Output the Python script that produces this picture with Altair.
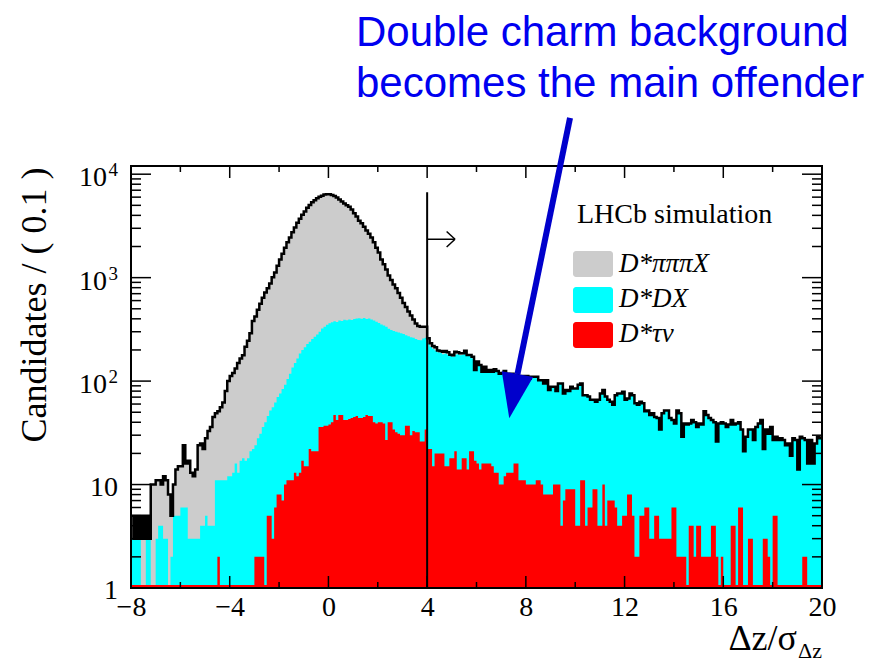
import altair as alt
import pandas as pd

# ---------------- data (bins of 0.1 from -8 to 20) ----------------
X_LO, X_HI, BW = -8.0, 20.0, 0.1
Y_LO, Y_HI = 1, 12000

# total stack: D*pipipiX + D*DX + D*tau nu
total = [
    5, 3, 5, 3, 5, 3, 5, 3, 10, 10,
    11, 11, 10, 12, 11, 8, 5, 10, 14, 15,
    15, 24, 16, 17, 13, 12, 14, 24, 25, 22,
    28, 33, 36, 45, 49, 51, 56, 62, 80, 100,
    112, 120, 132, 150, 165, 178, 215, 245, 290, 380,
    420, 490, 560, 640, 720, 790, 880, 1010, 1120, 1300,
    1500, 1700, 1950, 2200, 2450, 2750, 3050, 3400, 3700, 4050,
    4350, 4750, 5050, 5350, 5600, 5850, 6050, 6200, 6350, 6400,
    6400, 6300, 6150, 5950, 5700, 5450, 5200, 5000, 4850, 4550,
    4200, 3900, 3550, 3350, 3100, 2850, 2650, 2450, 2200, 1950,
    1750, 1500, 1350, 1200, 1050, 950, 860, 790, 710, 640,
    570, 520, 470, 430, 395, 360, 340, 335, 335, 335,
    259, 232, 218, 212, 198, 195, 192, 195, 190, 180,
    178, 192, 190, 186, 186, 196, 179, 179, 172, 128,
    155, 143, 123, 138, 123, 128, 123, 130, 125, 118,
    120, 125, 118, 115, 118, 112, 115, 110, 112, 108,
    112, 106, 110, 110, 110, 102, 102, 95, 102, 82,
    88, 88, 80, 95, 95, 76, 82, 80, 88, 85,
    85, 92, 95, 73, 73, 71, 66, 66, 63, 66,
    76, 82, 71, 66, 63, 59, 73, 76, 76, 79,
    66, 68, 76, 73, 61, 59, 63, 61, 51, 52,
    47, 49, 45, 44, 34, 49, 52, 52, 44, 42,
    39, 52, 49, 29, 39, 38, 39, 42, 40, 36,
    39, 38, 51, 47, 44, 42, 40, 26, 39, 40,
    39, 36, 38, 42, 38, 39, 40, 34, 21, 29,
    34, 34, 27, 36, 39, 42, 22, 34, 31, 36,
    27, 29, 27, 28, 27, 24, 25, 19, 28, 27,
    14, 29, 28, 27, 16, 27, 16, 25, 29, 28,
]

# D*DX + D*tau nu
dx_tau = [
    3, 3, 3, 3, 0, 0, 3, 3, 0, 0,
    3, 4, 4, 3, 3, 0, 2, 5, 5, 5,
    6, 6, 6, 3, 3, 3, 3, 3, 4, 4,
    5, 4, 4, 4, 11, 11, 11, 11, 11, 12,
    12, 13, 16, 13, 17, 18, 17, 18, 21, 22,
    24, 28, 31, 36, 40, 46, 52, 56, 62, 70,
    76, 84, 92, 105, 118, 135, 150, 165, 185, 200,
    212, 228, 240, 255, 268, 282, 300, 322, 335, 350,
    362, 370, 378, 372, 385, 380, 392, 388, 395, 390,
    398, 402, 405, 400, 408, 398, 402, 395, 385, 375,
    365, 352, 345, 335, 320, 312, 305, 300, 295, 290,
    285, 278, 272, 265, 262, 255, 250, 248, 258, 262,
    232, 215, 205, 198, 190, 188, 182, 185, 180, 175,
    172, 180, 182, 178, 180, 185, 175, 176, 165, 125,
    155, 143, 123, 138, 123, 128, 123, 130, 125, 118,
    120, 125, 118, 115, 118, 112, 115, 110, 112, 108,
    112, 106, 110, 110, 110, 102, 102, 95, 102, 82,
    88, 88, 80, 95, 95, 76, 82, 80, 88, 85,
    85, 92, 95, 73, 73, 71, 66, 66, 63, 66,
    76, 82, 71, 66, 63, 59, 73, 76, 76, 79,
    66, 68, 76, 73, 61, 59, 63, 61, 51, 52,
    47, 49, 45, 44, 34, 49, 52, 52, 44, 42,
    39, 52, 49, 29, 39, 38, 39, 42, 40, 36,
    39, 38, 51, 47, 44, 42, 40, 26, 39, 40,
    39, 36, 38, 42, 38, 39, 40, 34, 21, 29,
    34, 34, 27, 36, 39, 42, 22, 34, 31, 36,
    27, 29, 27, 28, 27, 24, 25, 19, 28, 27,
    14, 29, 28, 27, 16, 27, 16, 25, 29, 28,
]

# D*tau nu
tau = [
    0, 0, 0, 0, 0, 0, 0, 0, 0, 0,
    0, 0, 0, 0, 0, 0, 0, 0, 0, 0,
    0, 0, 0, 0, 0, 0, 0, 0, 0, 0,
    0, 0, 0, 0, 0, 2, 0, 0, 0, 0,
    0, 0, 0, 0, 0, 0, 0, 0, 0, 0,
    2, 2, 2, 2, 0, 5, 5, 3, 6, 8,
    8, 7, 10, 11, 11, 11, 13, 12, 13, 17,
    15, 15, 22, 21, 21, 21, 36, 36, 37, 37,
    38, 40, 47, 42, 47, 47, 42, 42, 43, 44,
    45, 46, 44, 44, 45, 47, 46, 46, 40, 39,
    40, 40, 39, 27, 40, 40, 34, 32, 31, 30,
    30, 37, 37, 30, 33, 32, 32, 26, 26, 34,
    22, 22, 15, 20, 20, 20, 20, 15, 15, 18,
    18, 21, 14, 14, 18, 18, 14, 21, 21, 17,
    16, 14, 16, 16, 16, 16, 15, 13, 13, 10,
    10, 12, 13, 13, 13, 16, 16, 11, 11, 11,
    10, 10, 10, 10, 11, 11, 10, 8, 8, 8,
    8, 10, 10, 10, 4, 7, 9, 9, 9, 9,
    4, 4, 11, 11, 4, 6, 6, 9, 9, 4,
    4, 10, 4, 7, 7, 7, 6, 4, 4, 5,
    5, 8, 8, 5, 2, 2, 5, 5, 6, 6,
    3, 3, 5, 5, 3, 3, 3, 3, 3, 6,
    6, 2, 2, 2, 2, 0, 4, 4, 2, 4,
    4, 2, 2, 2, 2, 4, 4, 2, 0, 2,
    0, 0, 0, 4, 4, 0, 6, 6, 0, 0,
    3, 3, 0, 0, 0, 0, 3, 3, 2, 0,
    5, 5, 0, 0, 0, 0, 0, 0, 0, 0,
    0, 0, 2, 2, 0, 0, 0, 0, 0, 0,
]

x_tick_labels = [-8, -4, 0, 4, 8, 12, 16, 20]
x_minor_ticks = [-6, -2, 2, 6, 10, 14, 18]
y_decades = [1, 10, 100, 1000, 10000]
legend_names = ["D*\u03c0\u03c0\u03c0X", "D*DX", "D*\u03c4\u03bd"]
legend_colors = ["#cccccc", "#00ffff", "#ff0000"]

# ---------------- table ----------------
n = len(total)
edges = [round(X_LO + BW * i, 2) for i in range(n)] + [X_HI]


def level(v):
    return [max(a, Y_LO) for a in v] + [max(v[-1], Y_LO)]


hist = pd.DataFrame({"x": edges, "total": level(total),
                     "dxtau": level(dx_tau), "tau": level(tau)})
one = pd.DataFrame({"k": [0]})

W, H = 691, 422
SERIF = "Liberation Serif"
SANS = "Liberation Sans"
BLUE_TXT = "#0000f0"
BLUE_ARR = "#0000cc"

xs = alt.Scale(domain=[X_LO, X_HI], nice=False, zero=False)
ys = alt.Scale(type="log", domain=[Y_LO, Y_HI], nice=False)
x_axis = alt.Axis(values=x_tick_labels, ticks=False, domain=False, grid=False,
                  labelFont=SERIF, labelFontSize=28, labelColor="black",
                  labelPadding=5, title=None, labelFlush=False,
                  labelOverlap=False, format="d")

base = alt.Chart(hist)
X = alt.X("x:Q", scale=xs, axis=x_axis)


def area(field, color):
    return base.mark_area(interpolate="step-after", color=color, opacity=1).encode(
        x=X, y=alt.Y(f"{field}:Q", scale=ys, axis=None), y2=alt.datum(Y_LO))


layers = [
    area("total", legend_colors[0]),
    area("dxtau", legend_colors[1]),
    area("tau", legend_colors[2]),
    base.mark_line(interpolate="step-after", color="black", strokeWidth=2.5).encode(
        x=X, y=alt.Y("total:Q", scale=ys, axis=None)),
]

# red strip along the bottom
layers.append(alt.Chart(one).mark_rule(color="#ff0000", strokeWidth=2).encode(
    x=alt.value(0), x2=alt.value(W), y=alt.value(H - 2)))

# cut line at 4 with arrow
cut = pd.DataFrame({"x": [4.0], "x2": [4.0], "y": [1.0], "y2": [6700.0]})
arr = pd.DataFrame({"x": [4.0, 4.79, 4.79], "x2": [5.13, 5.13, 5.13],
                    "y": [2350.0, 2790.0, 1980.0], "y2": [2350.0, 2350.0, 2350.0]})
for d, sw in ((cut, 2), (arr, 1.5)):
    layers.append(alt.Chart(d).mark_rule(color="black", strokeWidth=sw).encode(
        x=alt.X("x:Q", scale=xs, axis=x_axis), x2="x2:Q",
        y=alt.Y("y:Q", scale=ys, axis=None), y2="y2:Q"))


# inward ticks
def xticks(vals, length):
    d = alt.Chart(pd.DataFrame({"v": vals}))
    xx = alt.X("v:Q", scale=xs, axis=x_axis)
    return [
        d.mark_rule(color="black", strokeWidth=1.5).encode(x=xx, y=alt.value(H), y2=alt.value(H - length)),
        d.mark_rule(color="black", strokeWidth=1.5).encode(x=xx, y=alt.value(0), y2=alt.value(length)),
    ]


def yticks(vals, length):
    d = alt.Chart(pd.DataFrame({"v": vals}))
    yy = alt.Y("v:Q", scale=ys, axis=None)
    return [
        d.mark_rule(color="black", strokeWidth=1.5).encode(y=yy, x=alt.value(0), x2=alt.value(length)),
        d.mark_rule(color="black", strokeWidth=1.5).encode(y=yy, x=alt.value(W), x2=alt.value(W - length)),
    ]


y_minor = [m * dec for dec in y_decades for m in range(2, 10) if m * dec < Y_HI]
layers += xticks(x_tick_labels, 12) + xticks(x_minor_ticks, 6)
layers += yticks(y_decades, 20) + yticks(y_minor, 10)

# frame
layers.append(alt.Chart(one).mark_rect(fillOpacity=0, stroke="black", strokeWidth=2).encode(
    x=alt.value(0), x2=alt.value(W), y=alt.value(0), y2=alt.value(H)))

# y tick labels (10^n written with a raised exponent)
plain = pd.DataFrame({"v": y_decades[:2], "t": ["1", "10"]})
powr = pd.DataFrame({"v": y_decades[2:], "b": ["10"] * 3, "e": ["2", "3", "4"]})
layers.append(alt.Chart(plain).mark_text(align="right", baseline="middle", font=SERIF,
                                         fontSize=28, color="black", dy=3).encode(
    y=alt.Y("v:Q", scale=ys, axis=None), x=alt.value(-13), text="t:N"))
layers.append(alt.Chart(powr).mark_text(align="right", baseline="middle", font=SERIF,
                                        fontSize=28, color="black", dy=4).encode(
    y=alt.Y("v:Q", scale=ys, axis=None), x=alt.value(-24), text="b:N"))
layers.append(alt.Chart(powr).mark_text(align="right", baseline="middle", font=SERIF,
                                        fontSize=19, color="black", dy=-4).encode(
    y=alt.Y("v:Q", scale=ys, axis=None), x=alt.value(-13), text="e:N"))


def label(text, x, y, size, font=SERIF, color="black", align="left",
          baseline="alphabetic", angle=0, style="normal"):
    return alt.Chart(one).mark_text(align=align, baseline=baseline, font=font,
                                    fontSize=size, color=color, angle=angle,
                                    fontStyle=style).encode(
        x=alt.value(x), y=alt.value(y), text=alt.value(text))


# axis titles
layers.append(label("Candidates / ( 0.1 )", -96, 139, 36, align="center",
                    baseline="middle", angle=270))
layers.append(label("\u0394z/\u03c3", 666, 484, 36, align="right"))
layers.append(label("\u0394z", 667, 492, 22))

# legend
layers.append(label("LHCb simulation", 446, 57, 28))
box_y = [(85, 111), (121, 147), (156, 182)]
text_y = [106, 141, 176]
for (y0, y1), ty, name, col in zip(box_y, text_y, legend_names, legend_colors):
    layers.append(alt.Chart(one).mark_rect(color=col, cornerRadius=3).encode(
        x=alt.value(442), x2=alt.value(482), y=alt.value(y0), y2=alt.value(y1)))
    layers.append(label(name, 488, ty, 27, style="italic"))

# blue annotation arrow
shaft = pd.DataFrame({"x": [9.79], "x2": [7.66], "y": [35100.0], "y2": [116.6]})
layers.append(alt.Chart(shaft).mark_rule(color=BLUE_ARR, strokeWidth=6, strokeCap="butt").encode(
    x=alt.X("x:Q", scale=xs, axis=x_axis), x2="x2:Q",
    y=alt.Y("y:Q", scale=ys, axis=None), y2="y2:Q"))
head = pd.DataFrame({"x": [7.494], "y": [71.4]})
layers.append(alt.Chart(head).mark_point(shape="M -0.71 -1 L 0.71 -1 L 0 1 Z", size=2025,
                                         angle=10.5, filled=True, color=BLUE_ARR,
                                         opacity=1, strokeWidth=0).encode(
    x=alt.X("x:Q", scale=xs, axis=x_axis), y=alt.Y("y:Q", scale=ys, axis=None)))

layers.append(label("Double charm background", 225, -120, 42, font=SANS, color=BLUE_TXT))
layers.append(label("becomes the main offender", 225, -69, 42, font=SANS, color=BLUE_TXT))

chart = alt.layer(*layers).properties(
    width=W, height=H,
    autosize=alt.AutoSizeParams(type="none"),
    padding={"left": 131, "top": 166, "right": 67, "bottom": 78},
    background="white",
).configure_view(stroke=None)

chart.save("out.html", embed_options={"renderer": "svg", "actions": False})
